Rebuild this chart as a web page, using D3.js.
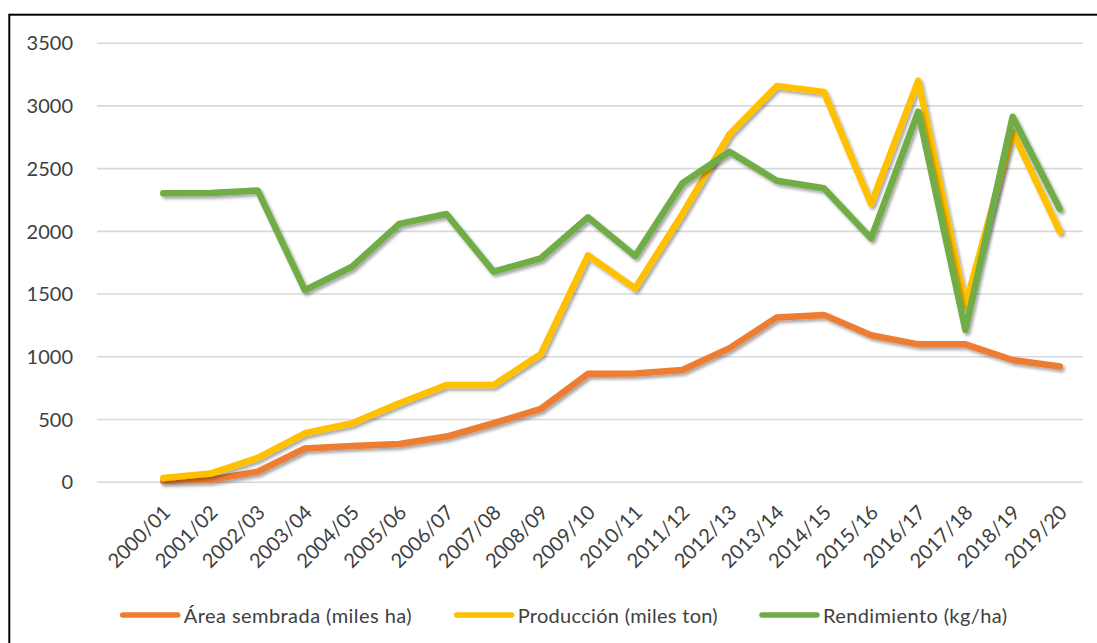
<!DOCTYPE html>
<html>
<head>
<meta charset="utf-8">
<script src="https://cdn.jsdelivr.net/npm/d3@7"></script>
<style>
  html, body { margin: 0; padding: 0; background: #fff; }
  svg { display: block; }
  text { font-family: Lato, "Open Sans", sans-serif; fill: #404040; }
</style>
</head>
<body>
<svg id="chart" width="1097" height="643"></svg>
<script>
const categories = ["2000/01","2001/02","2002/03","2003/04","2004/05","2005/06","2006/07","2007/08","2008/09","2009/10","2010/11","2011/12","2012/13","2013/14","2014/15","2015/16","2016/17","2017/18","2018/19","2019/20"];
const area = [5, 15, 80, 265, 285, 300, 360, 466, 580, 860, 862, 890, 1065, 1310, 1330, 1168, 1095, 1095, 970, 918];
const produccion = [30, 65, 190, 386, 466, 625, 771, 771, 1018, 1805, 1542, 2135, 2770, 3155, 3108, 2215, 3197, 1405, 2790, 1993];
const rendimiento = [2300, 2302, 2322, 1528, 1714, 2055, 2134, 1674, 1781, 2108, 1799, 2379, 2631, 2400, 2339, 1940, 2950, 1209, 2910, 2174];
const seriesNames = ["Área sembrada (miles ha)", "Producción (miles ton)", "Rendimiento (kg/ha)"];
const seriesColors = ["#ED7D31", "#FFC000", "#70AD47"];
const yTicks = [0, 500, 1000, 1500, 2000, 2500, 3000, 3500];

const svg = d3.select("#chart");

// defs: shadow
const defs = svg.append("defs");
const f = defs.append("filter").attr("id", "shadow").attr("x", "-5%").attr("y", "-5%").attr("width", "110%").attr("height", "115%");
f.append("feDropShadow").attr("dx", 2).attr("dy", 2.5).attr("stdDeviation", 1.6)
  .attr("flood-color", "#000").attr("flood-opacity", 0.35);

// frame
svg.append("rect").attr("x", 9.3).attr("y", 14.7).attr("width", 1200).attr("height", 700)
  .attr("fill", "none").attr("stroke", "#000").attr("stroke-width", 2);

const plotLeft = 97, plotRight = 1083;
const x = d3.scalePoint().domain(categories).range([163.3, 1059.8]);
const y = d3.scaleLinear().domain([0, 3500]).range([481.7, 42.7]);

// Y axis with gridlines
const yAxis = d3.axisLeft(y).tickValues(yTicks).tickSize(-(plotRight - plotLeft)).tickPadding(24).tickFormat(d3.format("d"));
const gy = svg.append("g").attr("transform", `translate(${plotLeft},0)`).call(yAxis);
gy.select(".domain").remove();
gy.selectAll(".tick line").attr("stroke", "#D9D9D9").attr("stroke-width", 1.6);
gy.selectAll(".tick text").attr("font-size", 20).attr("fill", "#404040")
  .style("font-family", "Lato, 'Open Sans', sans-serif").attr("dy", "0.36em");

// X axis labels
const xAxis = d3.axisBottom(x).tickSize(0).tickPadding(0);
const gx = svg.append("g").attr("transform", `translate(0,${y(0)})`).call(xAxis);
gx.select(".domain").remove();
gx.selectAll(".tick text")
  .attr("font-size", 20).attr("fill", "#404040")
  .style("font-family", "Lato, 'Open Sans', sans-serif")
  .attr("text-anchor", "end")
  .attr("dy", 0).attr("y", 0)
  .attr("transform", "translate(8,32) rotate(-45)");

// lines
const line = d3.line().x((d, i) => x(categories[i])).y(d => y(d));
const allSeries = [area, produccion, rendimiento];
svg.append("g").selectAll("path").data(allSeries).join("path")
  .attr("d", d => line(d))
  .attr("fill", "none")
  .attr("stroke", (d, i) => seriesColors[i])
  .attr("stroke-width", 6.5)
  .attr("stroke-linejoin", "round")
  .attr("stroke-linecap", "round")
  .attr("filter", "url(#shadow)");

// legend
const legendX = [122.7, 456.7, 762];
const legendW = [228, 200, 184];
const lg = svg.append("g").selectAll("g").data(seriesNames).join("g");
lg.append("line")
  .attr("x1", (d, i) => legendX[i]).attr("x2", (d, i) => legendX[i] + 55)
  .attr("y1", 615).attr("y2", 615)
  .attr("stroke", (d, i) => seriesColors[i]).attr("stroke-width", 5.5).attr("stroke-linecap", "round");
lg.append("text")
  .attr("x", (d, i) => legendX[i] + 61).attr("y", 623)
  .attr("font-size", 20)
  .attr("textLength", (d, i) => legendW[i]).attr("lengthAdjust", "spacing")
  .text(d => d);
</script>
</body>
</html>
